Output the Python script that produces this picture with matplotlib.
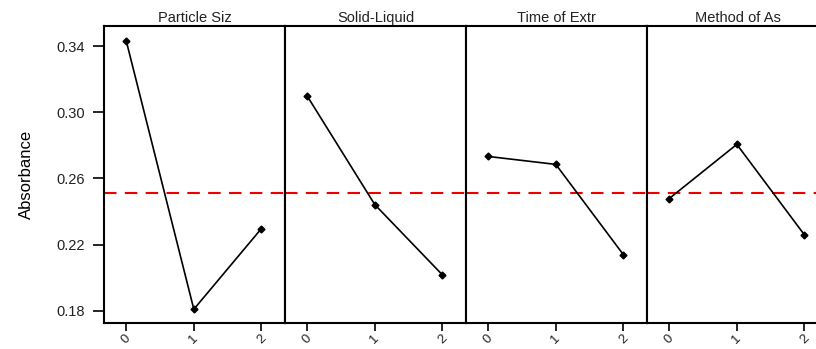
import matplotlib
matplotlib.use("Agg")
import matplotlib.pyplot as plt

plt.rcParams['font.family'] = ['Liberation Sans', 'DejaVu Sans']

# main effects for absorbance, one panel per factor
factors = ['Particle Siz', 'Solid-Liquid', 'Time of Extr', 'Method of As']
levels = [0, 1, 2]
level_labels = ['0', '1', '2']
means = [
    [0.343, 0.181, 0.2297],
    [0.3097, 0.2442, 0.2018],
    [0.2733, 0.2685, 0.2140],
    [0.2479, 0.2806, 0.2260],
]
grand_mean = 0.2515
y_ticks = [0.18, 0.22, 0.26, 0.30, 0.34]

fig = plt.figure(figsize=(8.16, 3.49), dpi=100)

left = 104 / 816
width = 181 / 816
bottom = 1 - 323 / 349
height = (323 - 26) / 349

axes = []
for i, name in enumerate(factors):
    ax = fig.add_axes([left + i * width, bottom, width, height])
    ax.plot(levels, means[i], color='black', lw=1.2, marker='D', ms=3.5, zorder=3)
    ax.axhline(grand_mean, color='#ee0000', lw=1.5, ls=(0, (6, 4)), zorder=2)
    ax.set_xlim(-0.33, 2.35)
    ax.set_ylim(0.1727, 0.3521)
    ax.set_xticks(levels)
    ax.set_xticklabels(level_labels, rotation=45, fontsize=9.5, color='#222222')
    ax.tick_params(axis='x', length=6, width=1.2, direction='out', pad=1)
    ax.set_title(name, fontsize=10.5, pad=3, color='#222222')
    for sp in ax.spines.values():
        sp.set_linewidth(1.5)
        sp.set_color('black')
    if i == 0:
        ax.set_yticks(y_ticks)
        ax.set_yticklabels([f'{v:.2f}' for v in y_ticks], fontsize=10.5, color='#222222')
        ax.tick_params(axis='y', length=8, width=1.2, direction='out', pad=6)
        ax.set_ylabel('Absorbance', fontsize=12, labelpad=16)
    else:
        ax.set_yticks([])
    axes.append(ax)

fig.savefig('out.png', dpi=100)
